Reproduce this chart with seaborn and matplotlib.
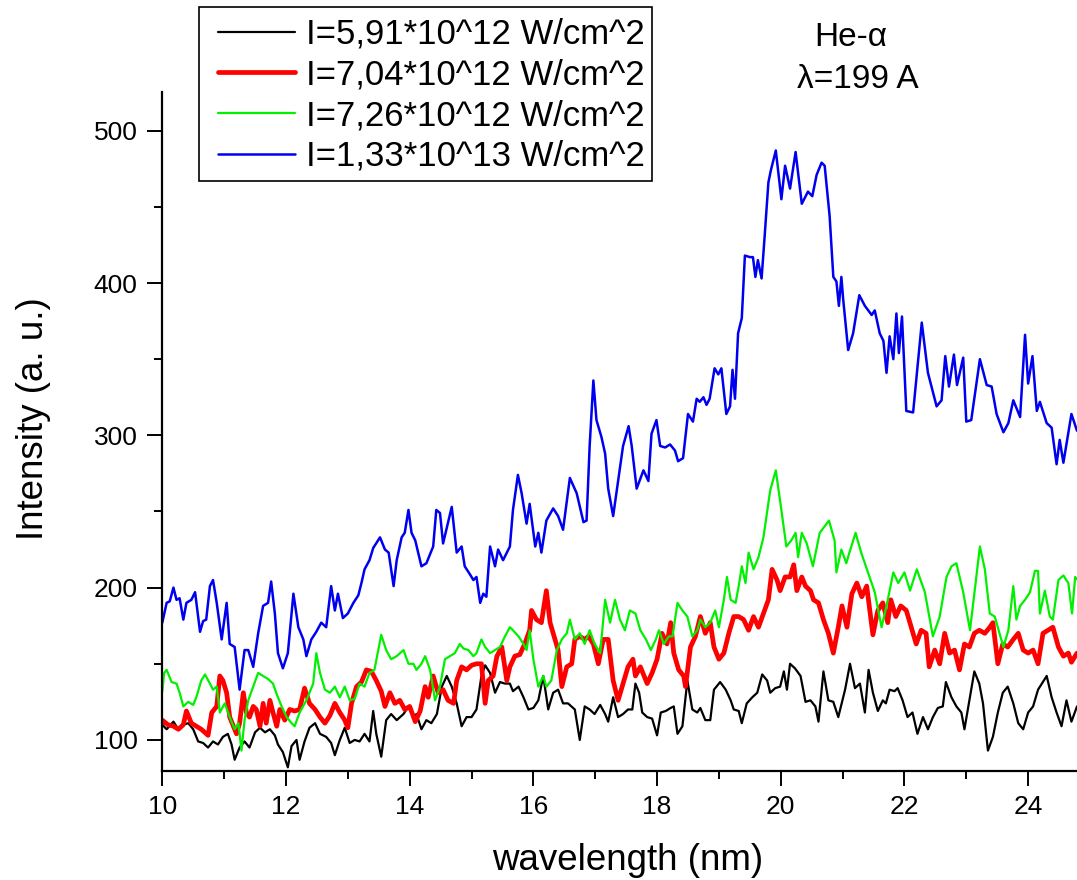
import matplotlib
matplotlib.use("Agg")
import matplotlib.pyplot as plt
import seaborn as sns
import pandas as pd
from matplotlib.ticker import MultipleLocator
from matplotlib.patches import Rectangle

# ---------------- data ----------------
labels = ["I=5,91*10^12 W/cm^2", "I=7,04*10^12 W/cm^2",
          "I=7,26*10^12 W/cm^2", "I=1,33*10^13 W/cm^2"]

black_x = [10.0, 10.07, 10.18, 10.26, 10.34, 10.42, 10.5, 10.58, 10.66, 10.74, 10.82, 10.9, 10.98, 11.06, 11.12,
           11.17, 11.25, 11.33, 11.41, 11.5, 11.58, 11.66, 11.74, 11.82, 11.87, 11.95, 12.03, 12.09, 12.17, 12.22,
           12.3, 12.38, 12.47, 12.55, 12.65, 12.73, 12.79, 12.87, 12.95, 13.03, 13.11, 13.19, 13.27, 13.35, 13.41,
           13.46, 13.54, 13.62, 13.7, 13.79,
           13.9, 13.98, 14.06, 14.11, 14.19, 14.27, 14.35, 14.44, 14.52, 14.6, 14.68, 14.76, 14.84, 14.92, 15.0,
           15.08, 15.16, 15.22, 15.3, 15.38, 15.46, 15.54, 15.62, 15.67, 15.76, 15.84, 15.92, 16.0, 16.08, 16.16,
           16.24, 16.32, 16.4, 16.48, 16.56, 16.67, 16.75, 16.83, 16.91, 16.99, 17.08, 17.16, 17.21, 17.29, 17.37,
           17.45, 17.53,
           17.6, 17.65, 17.71, 17.76, 17.84, 17.92, 18.0, 18.06, 18.14, 18.22, 18.27, 18.33, 18.41, 18.49, 18.57,
           18.65, 18.7, 18.78, 18.86, 18.92, 19.02, 19.11, 19.19, 19.24, 19.32, 19.37, 19.45, 19.54, 19.62, 19.7,
           19.78, 19.83, 19.91, 19.99, 20.05, 20.1, 20.15, 20.23, 20.32, 20.4, 20.48, 20.56, 20.61, 20.69, 20.77,
           20.85, 20.93, 21.04, 21.12, 21.2, 21.28, 21.36,
           21.42, 21.49, 21.57, 21.65, 21.7, 21.76, 21.84, 21.89, 21.97, 22.05, 22.13, 22.21, 22.3, 22.38, 22.46,
           22.54, 22.62, 22.67, 22.76, 22.84, 22.92, 22.97, 23.05, 23.13, 23.21, 23.27, 23.35, 23.43, 23.51, 23.59,
           23.67, 23.76, 23.84, 23.92, 24.0, 24.08, 24.16, 24.3, 24.38, 24.46, 24.54, 24.62, 24.7, 24.79]
black_y = [110, 107, 112, 107, 110, 111, 107, 99, 98, 95, 99, 97, 102, 104, 97,
           87, 95, 99, 95, 105, 108, 105, 107, 103, 97, 92, 82, 96, 100, 87,
           99, 108, 111, 104, 102, 98, 90, 100, 108, 98, 100, 99, 104, 99, 119,
           104, 89, 113, 117, 113,
           117, 122, 115, 117, 107, 113, 111, 117, 135, 142, 135, 124, 109, 115, 115,
           120, 142, 149, 144, 131, 138, 137, 137, 132, 135, 128, 120, 121, 126, 142,
           120, 131, 133, 124, 124, 120, 100, 122, 120, 117, 123, 117, 112, 128, 115,
           117, 120,
           120, 137, 131, 118, 115, 114, 103, 118, 119, 121, 122, 104, 109, 139, 120,
           118, 121, 113, 113, 133, 138, 133, 126, 120, 119, 111, 124, 128, 131, 143,
           139, 131, 134, 135, 145, 133, 150, 147, 142, 125, 126, 122, 112, 145, 126,
           125, 115, 133, 150, 134, 137, 118,
           146, 131, 119, 126, 124, 133, 132, 134, 126, 115, 118, 104, 115, 107, 115,
           121, 122, 138, 128, 122, 118, 107, 126, 145, 137, 124, 93, 102, 118, 131,
           135, 124, 111, 107, 118, 122, 133, 142, 128, 118, 109, 126, 112, 122]

red_x = [10.0, 10.09, 10.18, 10.26, 10.34, 10.39, 10.47, 10.55, 10.63, 10.74, 10.8, 10.88, 10.93, 10.98, 11.04,
         11.09, 11.15, 11.2, 11.25, 11.31, 11.36, 11.41, 11.47, 11.52, 11.58, 11.63, 11.68, 11.74, 11.79, 11.85,
         11.9, 11.98, 12.06, 12.14, 12.22, 12.3, 12.38, 12.47, 12.55, 12.63, 12.71, 12.79, 12.87, 12.95, 13.0,
         13.06, 13.14, 13.22, 13.3, 13.38, 13.46, 13.54, 13.6, 13.68, 13.76, 13.84,
         13.92, 14.0, 14.09, 14.17, 14.25, 14.3, 14.38, 14.46, 14.54, 14.62, 14.71, 14.76, 14.84, 14.92, 15.0,
         15.08, 15.16, 15.22, 15.27, 15.35, 15.41, 15.49, 15.57, 15.62, 15.7, 15.78, 15.86, 15.94, 15.97, 16.05,
         16.13, 16.21, 16.27, 16.35, 16.4, 16.46, 16.54, 16.62, 16.67, 16.75, 16.83, 16.89, 16.97, 17.05, 17.13,
         17.21, 17.29, 17.37, 17.45, 17.53, 17.61,
         17.65, 17.73, 17.84, 17.92, 18.0, 18.08, 18.16, 18.22, 18.27, 18.35, 18.43, 18.46, 18.54, 18.62, 18.7,
         18.78, 18.86, 18.92, 19.0, 19.08, 19.16, 19.24, 19.32, 19.4, 19.48, 19.56, 19.64, 19.72, 19.8, 19.86,
         19.94, 19.99, 20.07, 20.15, 20.21, 20.26, 20.34, 20.4, 20.48, 20.53, 20.61, 20.69, 20.77, 20.85, 20.93,
         20.99, 21.07, 21.15, 21.23, 21.31, 21.39,
         21.49, 21.57, 21.65, 21.73, 21.78, 21.86, 21.94, 22.03, 22.11, 22.19, 22.27, 22.35, 22.4, 22.49, 22.57,
         22.65, 22.73, 22.81, 22.89, 22.97, 23.05, 23.13, 23.21, 23.3, 23.38, 23.43, 23.51, 23.59, 23.67, 23.76,
         23.84, 23.92, 24.0, 24.08, 24.16, 24.24, 24.32, 24.4, 24.49, 24.57, 24.65, 24.7, 24.79]
red_y = [113, 110, 109, 107, 110, 119, 111, 109, 107, 103, 118, 122, 142, 139, 131,
         115, 109, 104, 111, 131, 118, 115, 122, 120, 109, 124, 111, 126, 118, 109,
         120, 113, 120, 119, 120, 134, 124, 120, 115, 111, 116, 124, 118, 113, 108,
         124, 135, 138, 146, 145, 139, 132, 122, 131, 124, 126,
         120, 122, 112, 119, 135, 128, 142, 131, 133, 126, 124, 139, 148, 146, 149,
         150, 150, 124, 139, 142, 155, 161, 139, 148, 155, 156, 163, 172, 185, 179,
         177, 198, 177, 166, 159, 135, 148, 150, 166, 168, 166, 168, 163, 150, 166,
         166, 139, 126, 137, 148, 153,
         142, 148, 137, 144, 153, 170, 163, 177, 157, 146, 142, 135, 161, 168, 181,
         170, 177, 161, 153, 157, 170, 181, 181, 179, 172, 181, 174, 183, 192, 212,
         205, 198, 207, 207, 215, 198, 207, 201, 198, 192, 190, 179, 170, 157, 174,
         188, 174, 196, 203, 194, 201,
         169, 185, 190, 177, 192, 181, 188, 185, 174, 163, 172, 170, 148, 159, 150,
         170, 157, 159, 146, 163, 161, 170, 172, 170, 174, 177, 150, 163, 161, 166,
         170, 159, 157, 159, 150, 170, 172, 174, 161, 155, 157, 151, 157]

green_x = [10.0, 10.03, 10.07, 10.15, 10.23, 10.28, 10.34, 10.42, 10.5, 10.55, 10.63, 10.69, 10.77, 10.82, 10.88,
           10.93, 11.01, 11.09, 11.17, 11.23, 11.28, 11.33, 11.39, 11.47, 11.55, 11.63, 11.71, 11.79, 11.85, 11.93,
           12.01, 12.09, 12.14, 12.22, 12.33, 12.44, 12.49, 12.55, 12.63, 12.71, 12.79, 12.87, 12.95, 13.03, 13.11,
           13.19, 13.27, 13.35, 13.43, 13.54, 13.62, 13.7, 13.79,
           13.9, 13.98, 14.06, 14.11, 14.19, 14.25, 14.33, 14.41, 14.49, 14.57, 14.65, 14.73, 14.81, 14.87, 14.95,
           15.03, 15.08, 15.16, 15.22, 15.3, 15.38, 15.46, 15.54, 15.62, 15.67, 15.76, 15.84, 15.89, 15.94, 16.0,
           16.08, 16.16, 16.21, 16.29, 16.38, 16.46, 16.54, 16.59, 16.67, 16.75, 16.83, 16.91, 16.99, 17.08, 17.16,
           17.24, 17.32, 17.4, 17.48, 17.56,
           17.65, 17.73, 17.82, 17.9, 17.98, 18.03, 18.11, 18.19, 18.25, 18.33, 18.41, 18.49, 18.57, 18.65, 18.7,
           18.78, 18.86, 18.94, 19.0, 19.08, 19.13, 19.19, 19.27, 19.32, 19.37, 19.43, 19.48, 19.56, 19.64,
           19.72, 19.83, 19.92, 20.01, 20.09, 20.17, 20.24, 20.28, 20.34, 20.42, 20.52, 20.63, 20.78, 20.87, 20.9,
           20.98, 21.06, 21.11, 21.21, 21.3, 21.41, 21.52, 21.63, 21.71, 21.82, 21.9, 22.0, 22.09, 22.2, 22.33,
           22.46, 22.57, 22.68, 22.76, 22.84, 22.95, 23.06, 23.22, 23.3, 23.38, 23.46, 23.6, 23.68, 23.76, 23.81,
           23.87, 23.95, 24.03, 24.11, 24.16, 24.19, 24.27, 24.35, 24.4, 24.49, 24.57, 24.65, 24.71, 24.76, 24.8]
green_y = [132, 144, 146, 138, 137, 131, 122, 125, 123, 128, 139, 143, 137, 133, 135,
           118, 124, 115, 107, 111, 93, 113, 126, 135, 144, 142, 140, 137, 130, 122,
           115, 111, 109, 118, 126, 137, 157, 144, 133, 131, 135, 128, 135, 126, 127,
           137, 135, 144, 146, 169, 159, 153, 155,
           159, 150, 150, 146, 150, 155, 146, 126, 135, 153, 155, 157, 163, 160, 159,
           155, 157, 166, 161, 157, 159, 161, 168, 174, 172, 168, 163, 159, 172, 153,
           135, 142, 135, 139, 159, 166, 170, 179, 166, 170, 163, 172, 163, 157, 192,
           177, 192, 179, 172, 185,
           183, 172, 166, 159, 166, 172, 163, 168, 168, 190, 185, 181, 168, 172, 179,
           174, 177, 185, 174, 192, 207, 192, 190, 201, 214, 203, 223, 212, 220,
           233, 264, 277, 251, 227, 231, 236, 220, 236, 229, 214, 236, 244, 231, 210,
           225, 216, 223, 236, 223, 210, 197, 174, 188, 210, 203, 210, 198, 212, 197,
           168, 181, 207, 214, 216, 197, 172, 227, 212, 183, 181, 161, 172, 201, 179,
           188, 192, 197, 211, 211, 183, 198, 181, 179, 205, 208, 203, 183, 207, 205]

blue_x = [10.0, 10.07, 10.12, 10.18, 10.23, 10.28, 10.34, 10.39, 10.47, 10.53, 10.61, 10.66, 10.71, 10.77, 10.82,
          10.88, 10.96, 11.04, 11.09, 11.17, 11.25, 11.33, 11.39, 11.47, 11.55, 11.63, 11.71, 11.76, 11.82, 11.87,
          11.95, 12.03, 12.12, 12.2, 12.28, 12.33, 12.41, 12.49, 12.57, 12.65, 12.73, 12.79, 12.84, 12.92, 13.0,
          13.09, 13.17, 13.22, 13.27, 13.35,
          13.41, 13.52, 13.6, 13.66, 13.74, 13.79, 13.87, 13.92, 13.98, 14.03, 14.09, 14.19, 14.27, 14.38, 14.43,
          14.49, 14.54, 14.68, 14.76, 14.84, 14.89, 14.97, 15.03, 15.08, 15.14, 15.19, 15.24, 15.3, 15.38, 15.43,
          15.51, 15.62, 15.67, 15.75, 15.81, 15.89, 15.94, 16.03, 16.08, 16.13, 16.21, 16.32, 16.4, 16.48, 16.59,
          16.7, 16.81, 16.86,
          16.91, 16.97, 17.02, 17.1, 17.16, 17.21, 17.29, 17.37, 17.45, 17.54, 17.59, 17.67, 17.78, 17.86, 17.91,
          17.99, 18.05, 18.13, 18.21, 18.29, 18.34, 18.42, 18.5, 18.58, 18.64, 18.69, 18.75, 18.8, 18.85, 18.93,
          18.99, 19.04, 19.12, 19.18, 19.22, 19.26, 19.31, 19.37, 19.42, 19.5, 19.55, 19.59, 19.63, 19.69, 19.74,
          19.8, 19.84, 19.92,
          20.01, 20.07, 20.15, 20.24, 20.34, 20.44, 20.51, 20.58, 20.66, 20.71, 20.79, 20.85, 20.9, 20.94, 20.98,
          21.01, 21.09, 21.17, 21.27, 21.36, 21.47, 21.52, 21.6, 21.66, 21.71, 21.76, 21.82, 21.87, 21.91, 21.96,
          22.03, 22.14, 22.28, 22.38, 22.52, 22.6, 22.66, 22.72, 22.8, 22.85, 22.95, 23.0, 23.08, 23.22, 23.33,
          23.41, 23.49, 23.6, 23.68, 23.76, 23.87, 23.95, 24.0, 24.07, 24.14, 24.19, 24.3, 24.38, 24.46, 24.51,
          24.57, 24.7, 24.79]
blue_y = [177, 190, 191, 200, 192, 193, 179, 190, 192, 197, 171, 178, 179, 201, 205,
          190, 166, 190, 163, 161, 133, 159, 159, 148, 170, 188, 190, 204, 183, 157,
          147, 157, 196, 174, 166, 155, 166, 171, 177, 174, 201, 185, 196, 180, 183,
          190, 195, 203, 212, 218,
          226, 233, 225, 223, 201, 218, 233, 236, 251, 236, 231, 214, 216, 227, 251,
          249, 229, 253, 223, 227, 214, 209, 205, 207, 190, 196, 194, 227, 214, 225,
          218, 227, 251, 274, 262, 242, 255, 227, 236, 223, 244, 252, 247, 238, 272,
          262, 243, 244,
          293, 336, 310, 299, 288, 265, 247, 270, 293, 306, 293, 265, 277, 270, 301,
          310, 293, 292, 294, 290, 283, 285, 314, 309, 324, 322, 325, 320, 324, 344,
          340, 344, 314, 319, 343, 324, 367, 377, 418, 417, 417, 404, 415, 403, 431,
          466, 474, 487,
          455, 477, 462, 486, 452, 460, 457, 471, 479, 477, 444, 404, 401, 385, 404,
          389, 356, 367, 392, 385, 379, 382, 367, 362, 341, 365, 350, 380, 354, 378,
          316, 315, 374, 341, 319, 323, 352, 332, 353, 333, 351, 309, 310, 350, 333,
          332, 314, 302, 308, 323, 312, 366, 334, 352, 316, 322, 308, 305, 281, 297,
          282, 314, 303]

x_ticks = [10, 12, 14, 16, 18, 20, 22, 24]
y_ticks = [100, 200, 300, 400, 500]

# ---------------- style ----------------
sns.set_style("ticks", {"axes.edgecolor": "black", "xtick.color": "black",
                        "ytick.color": "black", "text.color": "black",
                        "axes.labelcolor": "black"})
plt.rcParams["font.family"] = ["Liberation Sans", "DejaVu Sans"]

W, H = 1077, 880
fig = plt.figure(figsize=(W / 100, H / 100), dpi=100)
left, right, top, bottom = 162.3, 1077, 91.7, 770.7
ax = fig.add_axes([left / W, (H - bottom) / H, (right - left) / W, (bottom - top) / H])

series = [
    (black_x, black_y, "#000000", 1.6),
    (red_x, red_y, "#ff0000", 3.4),
    (green_x, green_y, "#00f000", 1.6),
    (blue_x, blue_y, "#0000f0", 1.8),
]
for (xs, ys, col, lw), lab in zip(series, labels):
    df = pd.DataFrame({"wavelength": xs, "intensity": ys})
    sns.lineplot(data=df, x="wavelength", y="intensity", ax=ax, color=col,
                 linewidth=lw, label=lab, sort=False, estimator=None)

ax.set_xlim(10, 24.79)
ax.set_ylim(79.8, 525.6)
ax.set_xticks(x_ticks)
ax.set_yticks(y_ticks)
ax.xaxis.set_minor_locator(MultipleLocator(1))
ax.yaxis.set_minor_locator(MultipleLocator(50))
for s in ["top", "right"]:
    ax.spines[s].set_visible(False)
for s in ["left", "bottom"]:
    ax.spines[s].set_linewidth(1.6)
ax.tick_params(which="major", direction="out", length=10.8, width=1.4,
               labelsize=19, pad=7)
ax.tick_params(which="minor", direction="out", length=5.8, width=1.4)

ax.set_xlabel("wavelength (nm)", fontsize=26.5, va="center")
ax.xaxis.set_label_coords(0.509, -0.132)
ax.set_ylabel("Intensity (a. u.)", fontsize=26.5, va="center")
ax.yaxis.set_label_coords(-0.1403, 0.518)

# legend entries (frame drawn separately to match the reference box)
leg = ax.legend(loc="upper left", bbox_to_anchor=(218 / W, 1 - 18 / H),
                bbox_transform=fig.transFigure, borderaxespad=0, fontsize=25,
                frameon=False, handlelength=2.22, handletextpad=0.32,
                labelspacing=0.22, borderpad=0)
fig.patches.append(Rectangle((199 / W, 1 - 181 / H), (652 - 199) / W, (181 - 7) / H,
                             transform=fig.transFigure, fill=False,
                             edgecolor="black", linewidth=1.2, zorder=5))

fig.text(851 / W, 1 - 37 / H, "He-α", ha="center", va="center", fontsize=24)
fig.text(858 / W, 1 - 80 / H, "λ=199 A", ha="center", va="center", fontsize=24)

fig.savefig("out.png", dpi=100)
